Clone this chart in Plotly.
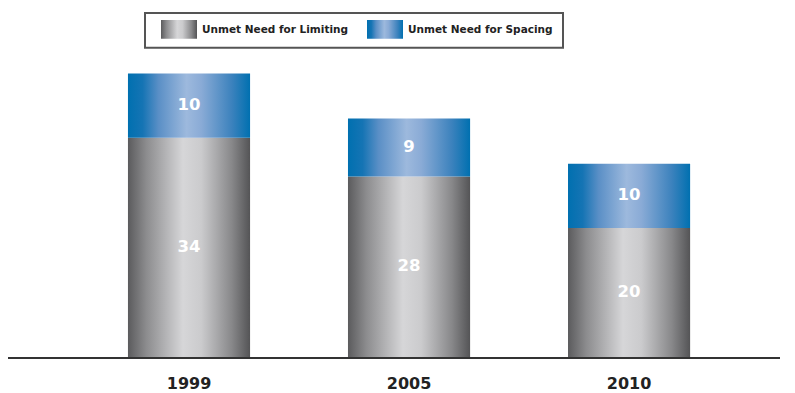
import plotly.graph_objects as go

years = ["1999", "2005", "2010"]
limiting = [34, 28, 20]
spacing = [10, 9, 10]
series_names = ["Unmet Need for Limiting", "Unmet Need for Spacing"]

gray_scale = [[0, "#5b5b5d"], [0.15, "#8c8c8e"], [0.45, "#d6d6d8"], [0.6, "#cbcbcd"],
              [0.85, "#88888a"], [1, "#545456"]]
blue_scale = [[0, "#0070b0"], [0.12, "#1574b4"], [0.25, "#5a8fc6"], [0.48, "#9db9dd"],
              [0.6, "#8aabd6"], [0.85, "#3c82bd"], [1, "#0070b0"]]

BW = 0.555
FONT = "DejaVu Sans"

fig = go.Figure()


def add_segments(values, bases, name, scale):
    for i, (v, b) in enumerate(zip(values, bases)):
        x0, x1 = i - BW / 2, i + BW / 2
        fig.add_trace(go.Scatter(
            x=[x0, x1, x1, x0, x0], y=[b, b, b + v, b + v, b],
            mode="lines", line=dict(width=0), fill="toself",
            fillgradient=dict(type="horizontal", colorscale=scale),
            name=name, showlegend=False, hoverinfo="skip"))


add_segments(limiting, [0, 0, 0], series_names[0], gray_scale)
add_segments(spacing, limiting, series_names[1], blue_scale)

# value labels
fig.add_trace(go.Scatter(
    x=list(range(len(years))) * 2,
    y=[v / 2 for v in limiting] + [l + s / 2 for l, s in zip(limiting, spacing)],
    text=[str(v) for v in limiting] + [str(v) for v in spacing],
    mode="text", textfont=dict(family=FONT, size=16.5, color="white", weight="bold"),
    showlegend=False, hoverinfo="skip"))

# custom legend (pixel-like overlay axes): box, gradient swatches, labels
legend_items = [(153, series_names[0], gray_scale), (359, series_names[1], blue_scale)]
for lx, name, scale in legend_items:
    fig.add_trace(go.Scatter(
        x=[lx, lx + 36, lx + 36, lx, lx], y=[12, 12, 31, 31, 12],
        xaxis="x2", yaxis="y2", mode="lines", line=dict(width=0), fill="toself",
        fillgradient=dict(type="horizontal", colorscale=scale),
        showlegend=False, hoverinfo="skip"))
    fig.add_annotation(x=lx + 39, y=21.5, xref="x2", yref="y2", text=name,
                       showarrow=False, xanchor="left", yanchor="middle",
                       font=dict(family=FONT, size=10.5, color="#222222", weight="bold"))
fig.add_shape(type="rect", xref="x2", yref="y2", x0=137, x1=555, y0=5, y1=40,
              line=dict(color="#555555", width=2), fillcolor="rgba(0,0,0,0)")

fig.update_layout(
    width=787, height=385,
    margin=dict(l=0, r=15, t=0, b=33),
    paper_bgcolor="white", plot_bgcolor="white",
    font=dict(family=FONT, color="#222222"),
    showlegend=False,
    xaxis=dict(range=[-0.8227, 2.686], tickvals=[0, 1, 2], ticktext=years,
               showgrid=False, zeroline=False, showline=True, linecolor="#333333",
               linewidth=2, ticks="outside", ticklen=11, tickcolor="rgba(0,0,0,0)",
               tickfont=dict(family=FONT, size=16, color="#222222", weight="bold"),
               fixedrange=True),
    yaxis=dict(range=[0, 54.15], visible=False, fixedrange=True),
    xaxis2=dict(overlaying="x", anchor="y2", range=[0, 772], visible=False, fixedrange=True),
    yaxis2=dict(overlaying="y", anchor="x2", range=[352, 0], visible=False, fixedrange=True),
)

fig.write_html("out.html")
